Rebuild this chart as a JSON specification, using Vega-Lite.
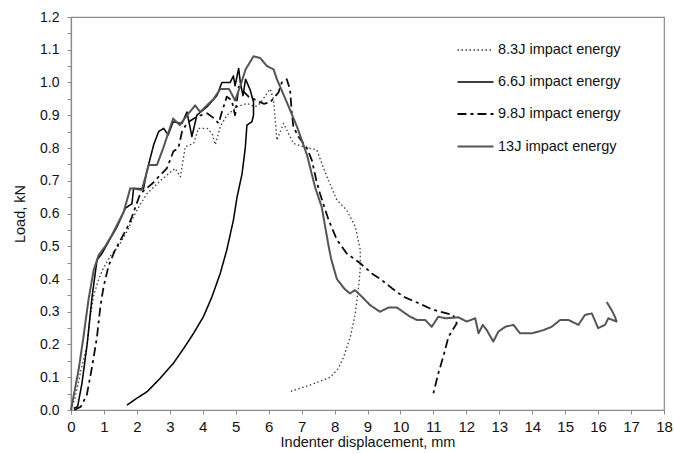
{
  "$schema": "https://vega.github.io/schema/vega-lite/v6.json",
  "width": 593,
  "height": 393,
  "autosize": {"type": "none"},
  "padding": {"left": 71, "top": 17, "right": 10, "bottom": 44},
  "background": "white",
  "config": {
    "view": {"stroke": "#8a8a8a", "strokeWidth": 1.2},
    "font": "Liberation Sans",
    "axis": {"grid": false, "domainColor": "#8a8a8a", "tickColor": "#8a8a8a", "labelColor": "#111", "titleColor": "#111", "labelFont": "Liberation Sans", "titleFont": "Liberation Sans", "titleFontWeight": "normal", "domainWidth": 1.2}
  },
  "data": {"values": [
    {"s":"8.3J impact energy","i":0,"x":0,"y":0},
    {"s":"8.3J impact energy","i":1,"x":0.13,"y":0.04},
    {"s":"8.3J impact energy","i":2,"x":0.3,"y":0.12},
    {"s":"8.3J impact energy","i":3,"x":0.49,"y":0.2},
    {"s":"8.3J impact energy","i":4,"x":0.56,"y":0.27},
    {"s":"8.3J impact energy","i":5,"x":0.69,"y":0.35},
    {"s":"8.3J impact energy","i":6,"x":0.84,"y":0.4},
    {"s":"8.3J impact energy","i":7,"x":0.97,"y":0.43},
    {"s":"8.3J impact energy","i":8,"x":1.19,"y":0.47},
    {"s":"8.3J impact energy","i":9,"x":1.44,"y":0.5},
    {"s":"8.3J impact energy","i":10,"x":1.7,"y":0.545},
    {"s":"8.3J impact energy","i":11,"x":1.9,"y":0.59},
    {"s":"8.3J impact energy","i":12,"x":2.0,"y":0.61},
    {"s":"8.3J impact energy","i":13,"x":2.3,"y":0.66},
    {"s":"8.3J impact energy","i":14,"x":2.71,"y":0.7},
    {"s":"8.3J impact energy","i":15,"x":3.16,"y":0.738},
    {"s":"8.3J impact energy","i":16,"x":3.32,"y":0.712},
    {"s":"8.3J impact energy","i":17,"x":3.47,"y":0.804},
    {"s":"8.3J impact energy","i":18,"x":3.72,"y":0.814},
    {"s":"8.3J impact energy","i":19,"x":3.87,"y":0.86},
    {"s":"8.3J impact energy","i":20,"x":4.13,"y":0.86},
    {"s":"8.3J impact energy","i":21,"x":4.28,"y":0.845},
    {"s":"8.3J impact energy","i":22,"x":4.38,"y":0.81},
    {"s":"8.3J impact energy","i":23,"x":4.53,"y":0.865},
    {"s":"8.3J impact energy","i":24,"x":4.73,"y":0.9},
    {"s":"8.3J impact energy","i":25,"x":5.04,"y":0.926},
    {"s":"8.3J impact energy","i":26,"x":5.34,"y":0.936},
    {"s":"8.3J impact energy","i":27,"x":5.59,"y":0.926},
    {"s":"8.3J impact energy","i":28,"x":5.74,"y":0.936},
    {"s":"8.3J impact energy","i":29,"x":5.95,"y":0.967},
    {"s":"8.3J impact energy","i":30,"x":6.05,"y":0.98},
    {"s":"8.3J impact energy","i":31,"x":6.15,"y":0.947},
    {"s":"8.3J impact energy","i":32,"x":6.25,"y":0.824},
    {"s":"8.3J impact energy","i":33,"x":6.45,"y":0.875},
    {"s":"8.3J impact energy","i":34,"x":6.75,"y":0.814},
    {"s":"8.3J impact energy","i":35,"x":7.06,"y":0.804},
    {"s":"8.3J impact energy","i":36,"x":7.46,"y":0.794},
    {"s":"8.3J impact energy","i":37,"x":7.77,"y":0.712},
    {"s":"8.3J impact energy","i":38,"x":8.07,"y":0.641},
    {"s":"8.3J impact energy","i":39,"x":8.37,"y":0.61},
    {"s":"8.3J impact energy","i":40,"x":8.63,"y":0.56},
    {"s":"8.3J impact energy","i":41,"x":8.78,"y":0.489},
    {"s":"8.3J impact energy","i":42,"x":8.78,"y":0.43},
    {"s":"8.3J impact energy","i":43,"x":8.73,"y":0.377},
    {"s":"8.3J impact energy","i":44,"x":8.63,"y":0.295},
    {"s":"8.3J impact energy","i":45,"x":8.48,"y":0.224},
    {"s":"8.3J impact energy","i":46,"x":8.27,"y":0.16},
    {"s":"8.3J impact energy","i":47,"x":8.1,"y":0.125},
    {"s":"8.3J impact energy","i":48,"x":7.87,"y":0.1},
    {"s":"8.3J impact energy","i":49,"x":7.36,"y":0.08},
    {"s":"8.3J impact energy","i":50,"x":6.65,"y":0.056},

    {"s":"6.6J impact energy","i":0,"x":0.08,"y":0.005},
    {"s":"6.6J impact energy","i":1,"x":0.2,"y":0.01},
    {"s":"6.6J impact energy","i":2,"x":0.33,"y":0.08},
    {"s":"6.6J impact energy","i":3,"x":0.49,"y":0.2},
    {"s":"6.6J impact energy","i":4,"x":0.64,"y":0.346},
    {"s":"6.6J impact energy","i":5,"x":0.79,"y":0.458},
    {"s":"6.6J impact energy","i":6,"x":0.94,"y":0.478},
    {"s":"6.6J impact energy","i":7,"x":1.14,"y":0.514},
    {"s":"6.6J impact energy","i":8,"x":1.4,"y":0.56},
    {"s":"6.6J impact energy","i":9,"x":1.65,"y":0.616},
    {"s":"6.6J impact energy","i":10,"x":1.85,"y":0.63},
    {"s":"6.6J impact energy","i":11,"x":1.9,"y":0.677},
    {"s":"6.6J impact energy","i":12,"x":2.2,"y":0.675},
    {"s":"6.6J impact energy","i":13,"x":2.3,"y":0.728},
    {"s":"6.6J impact energy","i":14,"x":2.51,"y":0.81},
    {"s":"6.6J impact energy","i":15,"x":2.66,"y":0.85},
    {"s":"6.6J impact energy","i":16,"x":2.81,"y":0.86},
    {"s":"6.6J impact energy","i":17,"x":2.95,"y":0.84},
    {"s":"6.6J impact energy","i":18,"x":3.1,"y":0.88},
    {"s":"6.6J impact energy","i":19,"x":3.37,"y":0.875},
    {"s":"6.6J impact energy","i":20,"x":3.52,"y":0.91},
    {"s":"6.6J impact energy","i":21,"x":3.67,"y":0.835},
    {"s":"6.6J impact energy","i":22,"x":3.82,"y":0.9},
    {"s":"6.6J impact energy","i":23,"x":4.13,"y":0.926},
    {"s":"6.6J impact energy","i":24,"x":4.43,"y":0.96},
    {"s":"6.6J impact energy","i":25,"x":4.58,"y":1.0},
    {"s":"6.6J impact energy","i":26,"x":4.83,"y":1.0},
    {"s":"6.6J impact energy","i":27,"x":4.93,"y":1.02},
    {"s":"6.6J impact energy","i":28,"x":4.98,"y":0.99},
    {"s":"6.6J impact energy","i":29,"x":5.09,"y":1.043},
    {"s":"6.6J impact energy","i":30,"x":5.14,"y":1.0},
    {"s":"6.6J impact energy","i":31,"x":5.22,"y":0.96},
    {"s":"6.6J impact energy","i":32,"x":5.3,"y":1.01},
    {"s":"6.6J impact energy","i":33,"x":5.44,"y":0.977},
    {"s":"6.6J impact energy","i":34,"x":5.54,"y":0.94},
    {"s":"6.6J impact energy","i":35,"x":5.54,"y":0.9},
    {"s":"6.6J impact energy","i":36,"x":5.49,"y":0.88},
    {"s":"6.6J impact energy","i":37,"x":5.34,"y":0.87},
    {"s":"6.6J impact energy","i":38,"x":5.29,"y":0.8},
    {"s":"6.6J impact energy","i":39,"x":5.19,"y":0.72},
    {"s":"6.6J impact energy","i":40,"x":5.04,"y":0.65},
    {"s":"6.6J impact energy","i":41,"x":4.93,"y":0.58},
    {"s":"6.6J impact energy","i":42,"x":4.73,"y":0.489},
    {"s":"6.6J impact energy","i":43,"x":4.53,"y":0.417},
    {"s":"6.6J impact energy","i":44,"x":4.28,"y":0.346},
    {"s":"6.6J impact energy","i":45,"x":4.02,"y":0.285},
    {"s":"6.6J impact energy","i":46,"x":3.72,"y":0.234},
    {"s":"6.6J impact energy","i":47,"x":3.42,"y":0.188},
    {"s":"6.6J impact energy","i":48,"x":3.11,"y":0.143},
    {"s":"6.6J impact energy","i":49,"x":2.71,"y":0.097},
    {"s":"6.6J impact energy","i":50,"x":2.31,"y":0.056},
    {"s":"6.6J impact energy","i":51,"x":2.0,"y":0.036},
    {"s":"6.6J impact energy","i":52,"x":1.7,"y":0.015},

    {"s":"9.8J impact energy","i":0,"x":0.1,"y":0.0},
    {"s":"9.8J impact energy","i":1,"x":0.3,"y":0.01},
    {"s":"9.8J impact energy","i":2,"x":0.48,"y":0.046},
    {"s":"9.8J impact energy","i":3,"x":0.64,"y":0.132},
    {"s":"9.8J impact energy","i":4,"x":0.79,"y":0.224},
    {"s":"9.8J impact energy","i":5,"x":0.89,"y":0.315},
    {"s":"9.8J impact energy","i":6,"x":0.99,"y":0.377},
    {"s":"9.8J impact energy","i":7,"x":1.14,"y":0.44},
    {"s":"9.8J impact energy","i":8,"x":1.34,"y":0.489},
    {"s":"9.8J impact energy","i":9,"x":1.75,"y":0.565},
    {"s":"9.8J impact energy","i":10,"x":1.85,"y":0.59},
    {"s":"9.8J impact energy","i":11,"x":2.1,"y":0.66},
    {"s":"9.8J impact energy","i":12,"x":2.45,"y":0.69},
    {"s":"9.8J impact energy","i":13,"x":2.91,"y":0.738},
    {"s":"9.8J impact energy","i":14,"x":3.11,"y":0.79},
    {"s":"9.8J impact energy","i":15,"x":3.26,"y":0.8},
    {"s":"9.8J impact energy","i":16,"x":3.37,"y":0.85},
    {"s":"9.8J impact energy","i":17,"x":3.52,"y":0.876},
    {"s":"9.8J impact energy","i":18,"x":3.82,"y":0.896},
    {"s":"9.8J impact energy","i":19,"x":4.13,"y":0.906},
    {"s":"9.8J impact energy","i":20,"x":4.35,"y":0.89},
    {"s":"9.8J impact energy","i":21,"x":4.48,"y":0.875},
    {"s":"9.8J impact energy","i":22,"x":4.58,"y":0.91},
    {"s":"9.8J impact energy","i":23,"x":4.73,"y":0.957},
    {"s":"9.8J impact energy","i":24,"x":4.88,"y":0.945},
    {"s":"9.8J impact energy","i":25,"x":4.98,"y":0.9},
    {"s":"9.8J impact energy","i":26,"x":5.09,"y":0.987},
    {"s":"9.8J impact energy","i":27,"x":5.39,"y":0.957},
    {"s":"9.8J impact energy","i":28,"x":5.64,"y":0.945},
    {"s":"9.8J impact energy","i":29,"x":5.85,"y":0.935},
    {"s":"9.8J impact energy","i":30,"x":6.05,"y":0.94},
    {"s":"9.8J impact energy","i":31,"x":6.3,"y":0.97},
    {"s":"9.8J impact energy","i":32,"x":6.4,"y":1.0},
    {"s":"9.8J impact energy","i":33,"x":6.55,"y":1.01},
    {"s":"9.8J impact energy","i":34,"x":6.65,"y":0.977},
    {"s":"9.8J impact energy","i":35,"x":6.7,"y":0.91},
    {"s":"9.8J impact energy","i":36,"x":6.75,"y":0.865},
    {"s":"9.8J impact energy","i":37,"x":6.9,"y":0.835},
    {"s":"9.8J impact energy","i":38,"x":7.16,"y":0.8},
    {"s":"9.8J impact energy","i":39,"x":7.31,"y":0.763},
    {"s":"9.8J impact energy","i":40,"x":7.45,"y":0.7},
    {"s":"9.8J impact energy","i":41,"x":7.56,"y":0.66},
    {"s":"9.8J impact energy","i":42,"x":7.82,"y":0.58},
    {"s":"9.8J impact energy","i":43,"x":8.07,"y":0.52},
    {"s":"9.8J impact energy","i":44,"x":8.37,"y":0.478},
    {"s":"9.8J impact energy","i":45,"x":8.78,"y":0.448},
    {"s":"9.8J impact energy","i":46,"x":9.13,"y":0.417},
    {"s":"9.8J impact energy","i":47,"x":9.43,"y":0.397},
    {"s":"9.8J impact energy","i":48,"x":9.74,"y":0.372},
    {"s":"9.8J impact energy","i":49,"x":10.09,"y":0.346},
    {"s":"9.8J impact energy","i":50,"x":10.55,"y":0.326},
    {"s":"9.8J impact energy","i":51,"x":10.9,"y":0.31},
    {"s":"9.8J impact energy","i":52,"x":11.2,"y":0.3},
    {"s":"9.8J impact energy","i":53,"x":11.6,"y":0.29},
    {"s":"9.8J impact energy","i":54,"x":11.71,"y":0.265},
    {"s":"9.8J impact energy","i":55,"x":11.46,"y":0.224},
    {"s":"9.8J impact energy","i":56,"x":11.3,"y":0.163},
    {"s":"9.8J impact energy","i":57,"x":11.15,"y":0.112},
    {"s":"9.8J impact energy","i":58,"x":11.0,"y":0.051},

    {"s":"13J impact energy","i":0,"x":0,"y":0},
    {"s":"13J impact energy","i":1,"x":0.23,"y":0.122},
    {"s":"13J impact energy","i":2,"x":0.38,"y":0.224},
    {"s":"13J impact energy","i":3,"x":0.53,"y":0.336},
    {"s":"13J impact energy","i":4,"x":0.69,"y":0.428},
    {"s":"13J impact energy","i":5,"x":0.84,"y":0.473},
    {"s":"13J impact energy","i":6,"x":1.04,"y":0.5},
    {"s":"13J impact energy","i":7,"x":1.24,"y":0.534},
    {"s":"13J impact energy","i":8,"x":1.6,"y":0.605},
    {"s":"13J impact energy","i":9,"x":1.8,"y":0.677},
    {"s":"13J impact energy","i":10,"x":1.95,"y":0.675},
    {"s":"13J impact energy","i":11,"x":2.15,"y":0.672},
    {"s":"13J impact energy","i":12,"x":2.36,"y":0.748},
    {"s":"13J impact energy","i":13,"x":2.61,"y":0.748},
    {"s":"13J impact energy","i":14,"x":2.8,"y":0.8},
    {"s":"13J impact energy","i":15,"x":3.0,"y":0.86},
    {"s":"13J impact energy","i":16,"x":3.1,"y":0.89},
    {"s":"13J impact energy","i":17,"x":3.3,"y":0.87},
    {"s":"13J impact energy","i":18,"x":3.57,"y":0.906},
    {"s":"13J impact energy","i":19,"x":3.77,"y":0.93},
    {"s":"13J impact energy","i":20,"x":3.92,"y":0.91},
    {"s":"13J impact energy","i":21,"x":4.33,"y":0.95},
    {"s":"13J impact energy","i":22,"x":4.53,"y":0.98},
    {"s":"13J impact energy","i":23,"x":4.8,"y":0.98},
    {"s":"13J impact energy","i":24,"x":4.98,"y":0.945},
    {"s":"13J impact energy","i":25,"x":5.14,"y":0.99},
    {"s":"13J impact energy","i":26,"x":5.3,"y":1.04},
    {"s":"13J impact energy","i":27,"x":5.54,"y":1.08},
    {"s":"13J impact energy","i":28,"x":5.74,"y":1.075},
    {"s":"13J impact energy","i":29,"x":5.95,"y":1.05},
    {"s":"13J impact energy","i":30,"x":6.15,"y":1.04},
    {"s":"13J impact energy","i":31,"x":6.25,"y":1.01},
    {"s":"13J impact energy","i":32,"x":6.55,"y":0.94},
    {"s":"13J impact energy","i":33,"x":6.86,"y":0.865},
    {"s":"13J impact energy","i":34,"x":7.16,"y":0.78},
    {"s":"13J impact energy","i":35,"x":7.41,"y":0.68},
    {"s":"13J impact energy","i":36,"x":7.61,"y":0.62},
    {"s":"13J impact energy","i":37,"x":7.82,"y":0.5},
    {"s":"13J impact energy","i":38,"x":7.9,"y":0.46},
    {"s":"13J impact energy","i":39,"x":8.07,"y":0.4},
    {"s":"13J impact energy","i":40,"x":8.3,"y":0.37},
    {"s":"13J impact energy","i":41,"x":8.47,"y":0.356},
    {"s":"13J impact energy","i":42,"x":8.62,"y":0.366},
    {"s":"13J impact energy","i":43,"x":8.83,"y":0.346},
    {"s":"13J impact energy","i":44,"x":9.08,"y":0.32},
    {"s":"13J impact energy","i":45,"x":9.38,"y":0.3},
    {"s":"13J impact energy","i":46,"x":9.64,"y":0.313},
    {"s":"13J impact energy","i":47,"x":9.89,"y":0.313},
    {"s":"13J impact energy","i":48,"x":10.29,"y":0.285},
    {"s":"13J impact energy","i":49,"x":10.5,"y":0.275},
    {"s":"13J impact energy","i":50,"x":10.75,"y":0.275},
    {"s":"13J impact energy","i":51,"x":10.95,"y":0.254},
    {"s":"13J impact energy","i":52,"x":11.15,"y":0.285},
    {"s":"13J impact energy","i":53,"x":11.36,"y":0.28},
    {"s":"13J impact energy","i":54,"x":11.76,"y":0.283},
    {"s":"13J impact energy","i":55,"x":12.01,"y":0.27},
    {"s":"13J impact energy","i":56,"x":12.27,"y":0.28},
    {"s":"13J impact energy","i":57,"x":12.37,"y":0.234},
    {"s":"13J impact energy","i":58,"x":12.5,"y":0.26},
    {"s":"13J impact energy","i":59,"x":12.62,"y":0.244},
    {"s":"13J impact energy","i":60,"x":12.82,"y":0.209},
    {"s":"13J impact energy","i":61,"x":12.97,"y":0.239},
    {"s":"13J impact energy","i":62,"x":13.18,"y":0.254},
    {"s":"13J impact energy","i":63,"x":13.43,"y":0.26},
    {"s":"13J impact energy","i":64,"x":13.63,"y":0.234},
    {"s":"13J impact energy","i":65,"x":13.99,"y":0.234},
    {"s":"13J impact energy","i":66,"x":14.34,"y":0.244},
    {"s":"13J impact energy","i":67,"x":14.59,"y":0.254},
    {"s":"13J impact energy","i":68,"x":14.85,"y":0.275},
    {"s":"13J impact energy","i":69,"x":15.1,"y":0.275},
    {"s":"13J impact energy","i":70,"x":15.4,"y":0.26},
    {"s":"13J impact energy","i":71,"x":15.6,"y":0.29},
    {"s":"13J impact energy","i":72,"x":15.81,"y":0.295},
    {"s":"13J impact energy","i":73,"x":16.0,"y":0.25},
    {"s":"13J impact energy","i":74,"x":16.21,"y":0.26},
    {"s":"13J impact energy","i":75,"x":16.31,"y":0.28},
    {"s":"13J impact energy","i":76,"x":16.56,"y":0.27},
    {"s":"13J impact energy","i":77,"x":16.51,"y":0.285},
    {"s":"13J impact energy","i":78,"x":16.41,"y":0.305},
    {"s":"13J impact energy","i":79,"x":16.26,"y":0.33}
  ]},
  "mark": {"type": "line", "strokeJoin": "round"},
  "encoding": {
    "x": {"field": "x", "type": "quantitative", "scale": {"domain": [0, 18], "nice": false},
      "axis": {"title": "Indenter displacement, mm", "values": [0,1,2,3,4,5,6,7,8,9,10,11,12,13,14,15,16,17,18], "format": "d", "labelFontSize": 15, "titleFontSize": 14.5, "tickSize": 4, "labelPadding": 5, "titlePadding": 1, "labelFlush": false}},
    "y": {"field": "y", "type": "quantitative", "scale": {"domain": [0, 1.2], "nice": false},
      "axis": {"title": "Load, kN", "values": [0,0.05,0.1,0.15,0.2,0.25,0.3,0.35,0.4,0.45,0.5,0.55,0.6,0.65,0.7,0.75,0.8,0.85,0.9,0.95,1.0,1.05,1.1,1.15,1.2],
        "labelExpr": "round(datum.value*100) % 10 == 0 ? format(datum.value, '.1f') : ''", "labelFontSize": 14, "titleFontSize": 14.5, "tickSize": 4, "labelPadding": 8, "titlePadding": 12, "labelFlush": false}},
    "order": {"field": "i", "type": "quantitative"},
    "color": {"field": "s", "type": "nominal",
      "scale": {"domain": ["8.3J impact energy","6.6J impact energy","9.8J impact energy","13J impact energy"], "range": ["#3a3a3a","#000000","#0a0a0a","#555555"]},
      "legend": {"title": null, "orient": "none", "legendX": 385, "legendY": 14, "symbolType": "stroke", "symbolSize": 1300, "symbolStrokeWidth": 2, "labelFontSize": 14.5, "labelColor": "#111", "labelOffset": 3, "rowPadding": 6, "labelFont": "Liberation Sans"}},
    "strokeDash": {"field": "s", "type": "nominal",
      "scale": {"domain": ["8.3J impact energy","6.6J impact energy","9.8J impact energy","13J impact energy"], "range": [[1.5,2.5],[1,0],[9,4,3,4],[1,0]]},
      "legend": {"title": null}},
    "strokeWidth": {"field": "s", "type": "ordinal",
      "scale": {"domain": ["8.3J impact energy","6.6J impact energy","9.8J impact energy","13J impact energy"], "range": [1.3, 2, 2, 2.5]},
      "legend": {"title": null}}
  }
}
